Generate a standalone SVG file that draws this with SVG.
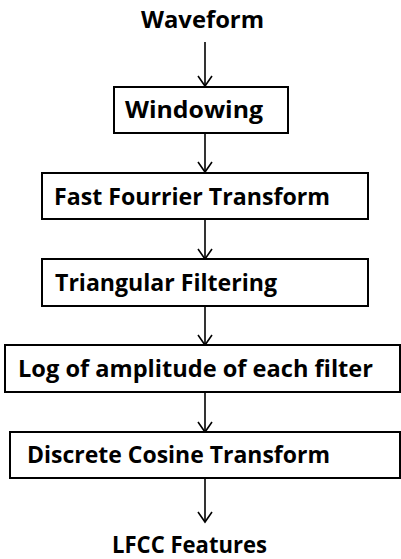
<svg xmlns="http://www.w3.org/2000/svg" width="401" height="559" viewBox="0 0 401 559">
<style>
.box{fill:#fff;stroke:#000;stroke-width:2}
.t{font-family:"Open Sans","Liberation Sans",sans-serif;font-weight:bold;font-size:23.5px;fill:#000}
.c{fill:none;stroke:#000;stroke-width:1.6}
</style>
<defs>
<marker id="ah" markerUnits="userSpaceOnUse" markerWidth="20" markerHeight="20" viewBox="-12 -10 14 20" refX="0" refY="0" orient="auto">
<path d="M-10,-7 L0,0 L-10,7" fill="none" stroke="#000" stroke-width="1.6"/>
</marker>
</defs>
<rect width="401" height="559" fill="#fff"/>
<g id="connectors">
<line class="c" x1="205" y1="42" x2="205" y2="86" marker-end="url(#ah)"/>
<line class="c" x1="205" y1="133" x2="205" y2="172" marker-end="url(#ah)"/>
<line class="c" x1="205" y1="219" x2="205" y2="259" marker-end="url(#ah)"/>
<line class="c" x1="205" y1="306" x2="205" y2="345" marker-end="url(#ah)"/>
<line class="c" x1="205" y1="392" x2="205" y2="432" marker-end="url(#ah)"/>
<line class="c" x1="205" y1="478" x2="205" y2="522" marker-end="url(#ah)"/>
</g>
<g id="waveform">
<text class="t" x="141" y="28" textLength="123" lengthAdjust="spacingAndGlyphs">Waveform</text>
</g>
<g id="windowing">
<rect class="box" x="114" y="87" width="174" height="46"/>
<text class="t" x="125" y="118" textLength="138" lengthAdjust="spacingAndGlyphs">Windowing</text>
</g>
<g id="fft">
<rect class="box" x="42" y="173" width="326" height="46"/>
<text class="t" x="54" y="205" textLength="276" lengthAdjust="spacingAndGlyphs">Fast Fourrier Transform</text>
</g>
<g id="triangular">
<rect class="box" x="42" y="259" width="326" height="47"/>
<text class="t" x="55" y="291" textLength="222" lengthAdjust="spacingAndGlyphs">Triangular Filtering</text>
</g>
<g id="log">
<rect class="box" x="5" y="345" width="395" height="47"/>
<text class="t" x="18" y="377" textLength="355" lengthAdjust="spacingAndGlyphs">Log of amplitude of each filter</text>
</g>
<g id="dct">
<rect class="box" x="10" y="432" width="390" height="46"/>
<text class="t" x="27" y="463" textLength="303" lengthAdjust="spacingAndGlyphs">Discrete Cosine Transform</text>
</g>
<g id="lfcc">
<text class="t" x="112" y="553" textLength="155" lengthAdjust="spacingAndGlyphs">LFCC Features</text>
</g>
</svg>
